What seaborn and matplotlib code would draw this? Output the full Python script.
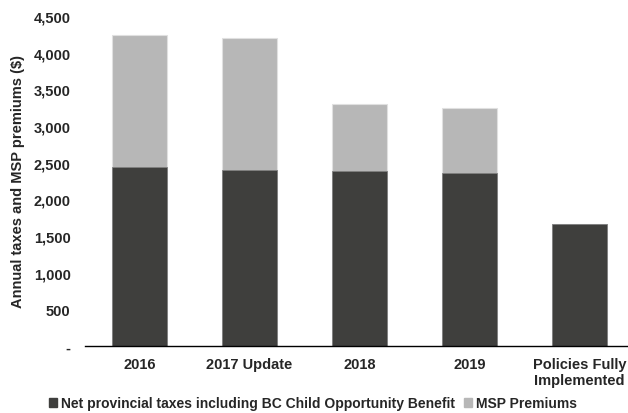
import matplotlib
matplotlib.use("Agg")
import matplotlib.pyplot as plt
import seaborn as sns
import pandas as pd
from matplotlib.patches import Patch
from matplotlib.ticker import FuncFormatter

categories = ["2016", "2017 Update", "2018", "2019", "Policies Fully\nImplemented"]
net_taxes = [2440, 2400, 2390, 2355, 1660]
msp_premiums = [1805, 1800, 905, 895, 0]
series_names = ["Net provincial taxes including BC Child Opportunity Benefit", "MSP Premiums"]
yticks = [0, 500, 1000, 1500, 2000, 2500, 3000, 3500, 4000, 4500]

dark = "#3f3f3d"
light = "#b7b7b7"

sns.set_theme(style="white")
plt.rcParams["font.family"] = ["Liberation Sans", "DejaVu Sans"]

df = pd.DataFrame({
    "cat": categories,
    "net": net_taxes,
    "total": [a + b for a, b in zip(net_taxes, msp_premiums)],
})

fig = plt.figure(figsize=(6.28, 4.14), dpi=100)
ax = fig.add_axes([84.5 / 628, 1 - 347 / 414, 1 - 84.5 / 628, 330 / 414])

sns.barplot(data=df, x="cat", y="total", order=categories, color=light,
            width=0.5, edgecolor="#e0e0e0", linewidth=0.8, saturation=1, ax=ax)
sns.barplot(data=df, x="cat", y="net", order=categories, color=dark,
            width=0.5, edgecolor="#808080", linewidth=0.6, saturation=1, ax=ax)

ax.set_ylim(0, 4500)
ax.set_xlim(-0.5, 4.44)
ax.set_yticks(yticks)
ax.yaxis.set_major_formatter(FuncFormatter(lambda v, p: "-" if v == 0 else f"{int(v):,}"))
ax.set_xlabel("")
ax.set_ylabel("Annual taxes and MSP premiums ($)", fontsize=10.5, fontweight="bold")
ax.yaxis.set_label_coords((25 - 84.5) / 543.5, 0.5)
for s in ["top", "right", "left"]:
    ax.spines[s].set_visible(False)
ax.spines["bottom"].set_color("black")
ax.spines["bottom"].set_linewidth(1.0)
ax.tick_params(axis="both", length=0, labelsize=10.5)
ax.tick_params(axis="y", pad=10)
ax.tick_params(axis="x", pad=8)
for lab in ax.get_xticklabels() + ax.get_yticklabels():
    lab.set_fontweight("bold")

handles = [Patch(color=dark, label=series_names[0]), Patch(color=light, label=series_names[1])]
leg = fig.legend(handles=handles, loc="center", bbox_to_anchor=(313 / 628, 1 - 404 / 414),
                 ncol=2, frameon=False, handlelength=0.6, handleheight=0.6,
                 handletextpad=0.3, columnspacing=0.6, prop={"weight": "bold", "size": 10})

fig.savefig("out.png", dpi=100)
